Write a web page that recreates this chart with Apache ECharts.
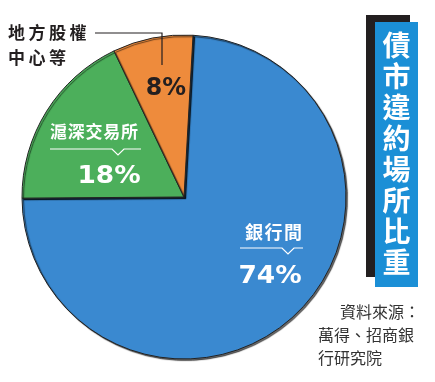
<!DOCTYPE html>
<html><head><meta charset="utf-8">
<script src="https://cdn.jsdelivr.net/npm/echarts@6/dist/echarts.min.js"></script>
<style>html,body{margin:0;padding:0;background:#fff}#c{width:435px;height:382px}</style>
</head><body><div id="c"></div>
<script>
var categories = ['銀行間', '滬深交易所', '地方股權中心等'];
var values = [74, 18, 8];
var colors = ['#3a89d0', '#4caf5b', '#ee8b3c'];
var titleChars = ['債','市','違','約','場','所','比','重'];
var sourceLines = ['資料來源：', '萬得、招商銀', '行研究院'];

var F = '"Noto Sans CJK TC", "Noto Sans", sans-serif';
var NUM = '"DejaVu Sans", sans-serif';
var chart = echarts.init(document.getElementById('c'));
var g = [];
function spaced(str, x0, y, pitch, style) {
  str.split('').forEach(function(ch, i){
    g.push({type:'text', x:x0 + i*pitch, y:y, style:Object.assign({text:ch, textAlign:'center', textVerticalAlign:'middle'}, style), z:12});
  });
}
// title box
g.push({type:'rect', shape:{x:366,y:15,width:44,height:262}, style:{fill:'#231f20'}, z:10});
g.push({type:'rect', shape:{x:375,y:22,width:43,height:265}, style:{fill:'#1b8fd6'}, z:11});
titleChars.forEach(function(ch,i){
  g.push({type:'text', x:396.5, y:45+i*31, style:{text:ch, fill:'#fff', font:'bold 28px '+F, textAlign:'center', textVerticalAlign:'middle'}, z:12});
});
// source
g.push({type:'text', x:420, y:312, style:{text:sourceLines[0], fill:'#333', font:'16px '+F, textAlign:'right', textVerticalAlign:'middle'}, z:12});
g.push({type:'text', x:318, y:335, style:{text:sourceLines[1], fill:'#333', font:'16px '+F, textAlign:'left', textVerticalAlign:'middle'}, z:12});
g.push({type:'text', x:318, y:358, style:{text:sourceLines[2], fill:'#333', font:'16px '+F, textAlign:'left', textVerticalAlign:'middle'}, z:12});
// callout for small slice
var darkLbl = {fill:'#231f20', font:'bold 17px '+F};
spaced(categories[2].slice(0,4), 16.5, 33, 20.5, darkLbl);
spaced(categories[2].slice(4), 16.5, 58, 20.5, darkLbl);
g.push({type:'polyline', shape:{points:[[95,33],[162,33],[162,65]]}, style:{stroke:'#231f20', lineWidth:1.2, fill:null}, z:12});
g.push({type:'text', x:166, y:88, scaleX:0.95, style:{text:values[2]+'%', fill:'#231f20', font:'bold 25px '+NUM, textAlign:'center', textVerticalAlign:'middle'}, z:12});
// green label
var whiteLbl = {fill:'#fff', font:'bold 17px '+F, textShadowColor:'#1a1a1a', textShadowOffsetX:1.5, textShadowOffsetY:1.5, textShadowBlur:0};
spaced(categories[1], 58.5, 132, 17.75, whiteLbl);
g.push({type:'polyline', shape:{points:[[50,149],[112,149],[118,155],[124,149],[141,149]]}, style:{stroke:'#fff', lineWidth:1.2, fill:null}, z:12});
g.push({type:'text', x:109, y:177, scaleX:1.1, style:{text:values[1]+'%', fill:'#fff', font:'bold 24px '+NUM, textAlign:'center', textVerticalAlign:'middle'}, z:12});
// blue label
var whiteLbl2 = Object.assign({}, whiteLbl, {font:'bold 18px '+F});
spaced(categories[0], 254, 232, 19.5, whiteLbl2);
g.push({type:'polyline', shape:{points:[[240,248],[282,248],[288,254],[294,248],[303,248]]}, style:{stroke:'#fff', lineWidth:1.2, fill:null}, z:12});
g.push({type:'text', x:270, y:277, scaleX:1.1, style:{text:values[0]+'%', fill:'#fff', font:'bold 24px '+NUM, textAlign:'center', textVerticalAlign:'middle'}, z:12});

chart.setOption({
  animation:false,
  series:[{
    type:'pie',
    center:[184,197],
    radius:[0,162],
    startAngle:86.8,
    clockwise:true,
    label:{show:false},
    labelLine:{show:false},
    itemStyle:{borderColor:'#222', borderWidth:1, shadowColor:'rgba(0,0,0,0.6)', shadowOffsetX:1.5, shadowOffsetY:1.5, shadowBlur:1},
    data: categories.map(function(c,i){return {name:c, value:values[i], itemStyle:{color:colors[i]}};})
  }],
  graphic: g
});
</script></body></html>
